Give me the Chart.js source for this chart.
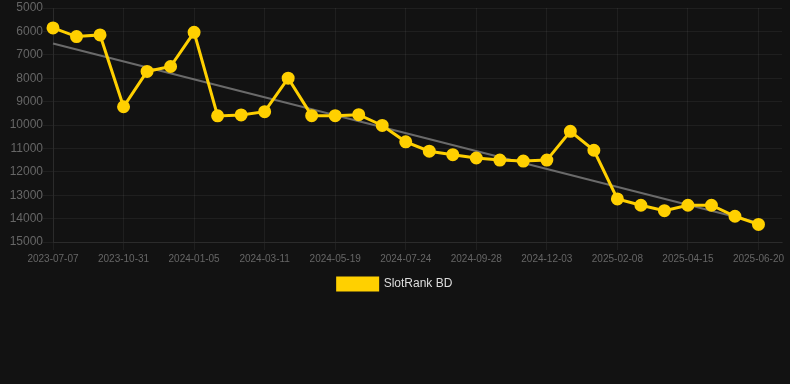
<!DOCTYPE html>
<html>
<head>
<meta charset="utf-8">
<script src="https://cdn.jsdelivr.net/npm/chart.js@4/dist/chart.umd.min.js"></script>
<style>
  html, body { margin: 0; padding: 0; background: #121212; }
  #wrap { width: 790px; height: 300px; position: relative; }
</style>
</head>
<body>
<div id="wrap"><canvas id="c"></canvas></div>
<script>
const dates = [
  '2023-07-07','2023-08-12','2023-09-20','2023-10-31','2023-11-22','2023-12-14',
  '2024-01-05','2024-01-27','2024-02-18','2024-03-11','2024-04-03','2024-04-26',
  '2024-05-19','2024-06-10','2024-07-02','2024-07-24','2024-08-15','2024-09-06',
  '2024-09-28','2024-10-20','2024-11-11','2024-12-03','2024-12-25','2025-01-17',
  '2025-02-08','2025-03-02','2025-03-24','2025-04-15','2025-05-07','2025-05-29',
  '2025-06-20','2025-07-12'
];
const rankBD = [
  5850, 6220, 6150, 9220, 7710, 7500, 6040, 9610, 9570, 9430, 8000, 9600,
  9600, 9560, 10020, 10720, 11120, 11270, 11410, 11500, 11540, 11500, 10270, 11080,
  13160, 13430, 13660, 13430, 13430, 13900, 14250
];
const trendStart = 6520;
const trendEnd = 14180;
const trendLine = dates.map((d, i) => i === 0 ? trendStart : (i === rankBD.length - 1 ? trendEnd : null));
const yMin = 5000, yMax = 15000, yStep = 1000;

const gridCol = 'rgba(255,255,255,0.055)';
const fontFam = 'Arial, "Liberation Sans", sans-serif';

new Chart(document.getElementById('c'), {
  type: 'line',
  data: {
    labels: dates,
    datasets: [
      {
        label: 'SlotRank BD',
        data: rankBD,
        borderColor: '#FFD000',
        backgroundColor: '#FFD000',
        borderWidth: 3,
        pointRadius: 5,
        pointHoverRadius: 5,
        pointBackgroundColor: '#FFD000',
        pointBorderColor: '#FFD000',
        tension: 0,
        order: 1
      },
      {
        label: 'trend',
        data: trendLine,
        spanGaps: true,
        borderColor: '#6a6a6a',
        backgroundColor: '#6a6a6a',
        borderWidth: 2,
        pointRadius: 0,
        tension: 0,
        order: 2
      }
    ]
  },
  options: {
    responsive: true,
    maintainAspectRatio: false,
    animation: false,
    layout: { padding: 0 },
    plugins: {
      legend: {
        position: 'bottom',
        labels: {
          color: '#dddddd',
          font: { family: fontFam, size: 12 },
          boxWidth: 40,
          boxHeight: 12,
          filter: (item) => item.text !== 'trend'
        }
      },
      tooltip: { enabled: false }
    },
    scales: {
      x: {
        grid: { color: gridCol, tickLength: 8 },
        border: { color: gridCol },
        ticks: {
          color: '#666666',
          font: { family: fontFam, size: 10 },
          maxRotation: 0,
          autoSkip: true,
          maxTicksLimit: 11
        }
      },
      y: {
        reverse: true,
        min: yMin,
        max: yMax,
        afterFit: (scale) => { scale.width = 53; },
        grid: { color: gridCol, tickLength: 10 },
        border: { color: gridCol },
        ticks: {
          stepSize: yStep,
          padding: 0,
          color: '#666666',
          font: { family: fontFam, size: 12, lineHeight: 1 },
          callback: (v) => String(v)
        }
      }
    }
  }
});
</script>
</body>
</html>
